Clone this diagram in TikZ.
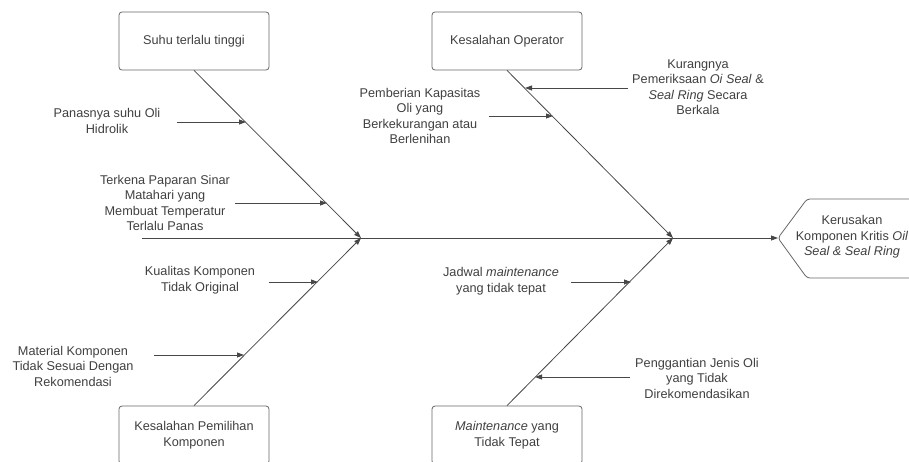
\documentclass[tikz,border=0pt]{standalone}
\usepackage{fontspec}
\setmainfont{Liberation Sans}
\usetikzlibrary{arrows.meta}

\begin{document}
\begin{tikzpicture}[
		x=1pt, y=-1pt,
		font=\fontsize{12.7}{15.5}\selectfont,
		line/.style = {draw=black!72, line width=0.8pt},
		tip/.style = {-{Triangle[length=7pt, width=5pt]}},
		cat/.style = {draw=black!60, line width=0.8pt, rounded corners=3pt, minimum width=150pt, minimum height=58pt, align=center, text=black!75},
		cause/.style = {align=center, text=black!75, inner sep=0pt}
	]
	\useasboundingbox (0,0) rectangle (909,461);
	\node[cat] (c1) at (194,41) {Suhu terlalu tinggi};
	\node[cat] (c2) at (507,41) {Kesalahan Operator};
	\node[cat] (c3) at (194,435) {Kesalahan Pemilihan\\Komponen};
	\node[cat] (c4) at (507,435) {\textit{Maintenance} yang\\Tidak Tepat};
	\draw[draw=black!60, line width=0.8pt, rounded corners=3pt] (778,238) -- (807,199) -- (912,199) -- (940,238) -- (912,278) -- (807,278) -- cycle;
	\node[cause] (head) at (852,237) {Kerusakan\\Komponen Kritis \textit{Oil}\\\textit{Seal \& Seal Ring}};
	\coordinate (tail) at (142,238);
	\coordinate (tip) at (778,238);
	\coordinate (j1) at (361,238);
	\coordinate (j2) at (673,238);
	\draw[line, tip] (tail) -- (tip);
	\draw[line, tip] (c1.south) -- (j1);
	\draw[line, tip] (c3.north) -- (j1);
	\draw[line, tip] (c2.south) -- (j2);
	\draw[line, tip] (c4.north) -- (j2);
	\node[cause] (t1) at (107,121) {Panasnya suhu Oli\\Hidrolik};
	\node[cause] (t2) at (165,203) {Terkena Paparan Sinar\\Matahari yang\\Membuat Temperatur\\Terlalu Panas};
	\node[cause] (t3) at (420,116) {Pemberian Kapasitas\\Oli yang\\Berkekurangan atau\\Berlenihan};
	\node[cause] (t4) at (698,87) {Kurangnya\\Pemeriksaan \textit{Oi Seal} \&\\\textit{Seal Ring} Secara\\Berkala};
	\node[cause] (t5) at (200,280) {Kualitas Komponen\\Tidak Original};
	\node[cause] (t6) at (73,366) {Material Komponen\\Tidak Sesuai Dengan\\Rekomendasi};
	\node[cause] (t7) at (501,281) {Jadwal \textit{maintenance}\\yang tidak tepat};
	\node[cause] (t8) at (697,378) {Penggantian Jenis Oli\\yang Tidak\\Direkomendasikan};
	\coordinate (a1) at (177,122);
	\coordinate (b1) at (246,122);
	\coordinate (a2) at (235,203);
	\coordinate (b2) at (327,203);
	\coordinate (a3) at (489,116);
	\coordinate (b3) at (553,116);
	\coordinate (a4) at (628,88);
	\coordinate (b4) at (525,88);
	\coordinate (a5) at (269,282);
	\coordinate (b5) at (318,282);
	\coordinate (a6) at (154,355);
	\coordinate (b6) at (244,355);
	\coordinate (a7) at (571,282);
	\coordinate (b7) at (631,282);
	\coordinate (a8) at (630,377);
	\coordinate (b8) at (535,377);
	\draw[line, tip] (a1) -- (b1);
	\draw[line, tip] (a2) -- (b2);
	\draw[line, tip] (a3) -- (b3);
	\draw[line, tip] (a4) -- (b4);
	\draw[line, tip] (a5) -- (b5);
	\draw[line, tip] (a6) -- (b6);
	\draw[line, tip] (a7) -- (b7);
	\draw[line, tip] (a8) -- (b8);
\end{tikzpicture}
\end{document}
